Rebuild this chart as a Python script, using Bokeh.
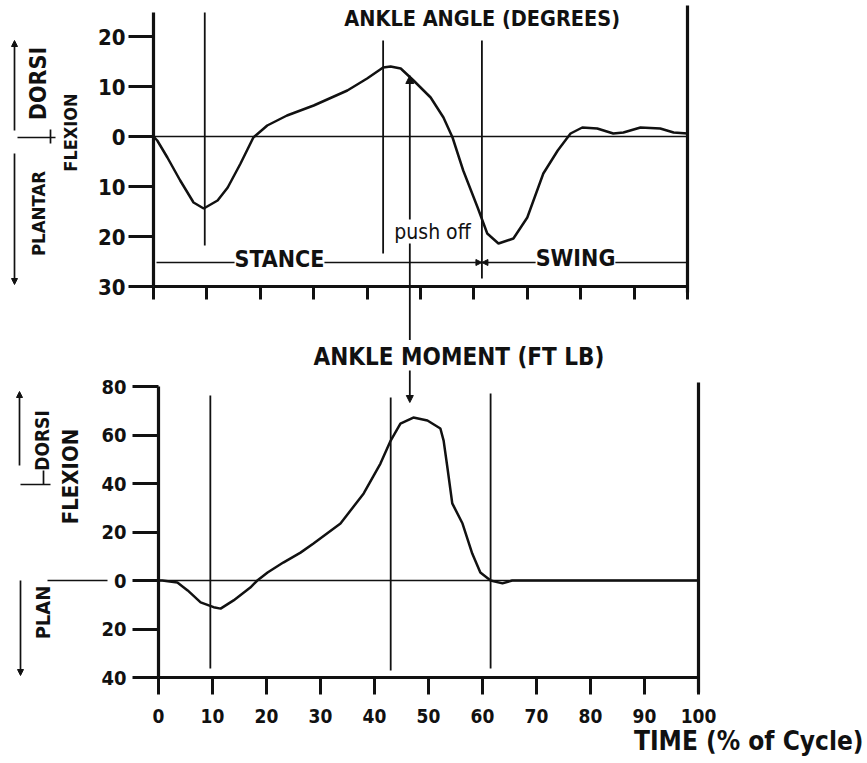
import math
from bokeh.plotting import figure
from bokeh.models import Range1d, FixedTicker, Label, Arrow, NormalHead
from bokeh.layouts import column
from bokeh.embed import file_html
from bokeh.resources import INLINE

# ---------------- data ----------------
# Ankle angle, degrees (dorsiflexion +, plantarflexion -) vs % of gait cycle
angle_x = [0, 0.7, 2.6, 5.0, 7.5, 9.4, 12.0, 13.9, 16.3, 18.7, 21.3, 25.0, 30.0,
           36.3, 40.0, 43.0, 44.4, 46.3, 48.7, 51.9, 54.3, 56.0, 58.0, 60.7,
           62.5, 64.6, 67.4, 70.0, 73.0, 75.7, 78.1, 80.3, 83.1, 86.1, 88.0,
           91.2, 94.9, 97.4, 100]
angle_y = [0, -0.8, -4.2, -8.8, -13.2, -14.4, -12.8, -10.2, -5.4, -0.2, 2.2, 4.2, 6.2,
           9.2, 11.6, 13.8, 14.0, 13.6, 11.2, 7.8, 3.8, -0.2, -6.8, -14.2,
           -19.4, -21.4, -20.4, -16.2, -7.4, -2.8, 0.6, 1.8, 1.6, 0.6, 0.8,
           1.8, 1.6, 0.8, 0.6]

# Ankle moment, ft lb (dorsiflexion +, plantarflexion -)
moment_x = [0, 0.7, 3.5, 5.4, 7.8, 10.2, 11.5, 13.9, 17.0, 18.3, 20.2, 23.1, 26.3,
            28.7, 33.7, 38.0, 41.1, 43.0, 44.8, 47.2, 49.8, 52.2, 52.8, 53.5,
            54.4, 56.3, 58.1, 59.6, 61.5, 63.7, 65.5, 100]
moment_y = [0, 0, -0.8, -4.1, -9.0, -11.0, -11.6, -8.2, -2.9, 0, 3.3, 7.4, 11.5,
            15.3, 23.5, 35.9, 48.2, 57.7, 64.7, 67.2, 66.0, 62.7, 57.7, 46.6,
            31.8, 23.5, 11.1, 3.3, 0, -1.2, 0, 0]

# gait events (% cycle): heel strike, heel off, toe off ; push off arrow
event_x = [9.6, 43.0, 61.5]
toe_off_x = 61.5
push_off_x = 48.0

# tick values and labels
x_ticks = [0, 10, 20, 30, 40, 50, 60, 70, 80, 90, 100]
angle_ticks = [-30, -20, -10, 0, 10, 20]
angle_tick_labels = ["30", "20", "10", "0", "10", "20"]
moment_ticks = [-40, -20, 0, 20, 40, 60, 80]
moment_tick_labels = ["40", "20", "0", "20", "40", "60", "80"]

# ---------------- layout helpers ----------------
FONT = "DejaVu Sans Condensed, DejaVu Sans"
INK = "#111111"
W = 866
H1 = 340            # top panel canvas height (page y 0..340)
H2 = 422            # bottom panel canvas height (page y 340..762)

# page-pixel anchors of the two hand-drawn panels
X01, XS1, Y01, YS1 = 153.0, 5.34, 136.0, 5.0      # top: x=0 at px153, 5.34 px/%; y=0 at py136, 5 px/deg
X02, XS2, Y02, YS2 = 158.0, 5.40, 580.0, 2.425    # bottom


def tx1(px): return (px - X01) / XS1
def ty1(py): return (Y01 - py) / YS1
def tx2(px): return (px - X02) / XS2
def ty2(py): return (Y02 - py) / YS2


def make_fig(xr, yr, h):
    p = figure(width=W, height=h, output_backend="svg", toolbar_location=None,
               x_range=Range1d(*xr), y_range=Range1d(*yr),
               min_border=0, min_border_left=0, min_border_right=0,
               min_border_top=0, min_border_bottom=0)
    p.xgrid.visible = False
    p.ygrid.visible = False
    p.outline_line_color = None
    p.background_fill_color = "white"
    p.border_fill_color = "white"
    for ax in (p.xaxis[0], p.yaxis[0]):
        ax.axis_line_width = 3.2
        ax.axis_line_color = INK
        ax.major_tick_in = 0
        ax.major_tick_line_width = 3
        ax.major_tick_line_color = INK
        ax.minor_tick_out = 0
        ax.minor_tick_in = 0
        ax.major_label_text_font = FONT
        ax.major_label_text_font_style = "bold"
        ax.major_label_text_color = INK
    return p


def seg(p, x0, y0, x1, y1, w=1.7, head=False, hs=8):
    p.add_layout(Arrow(x_start=x0, y_start=y0, x_end=x1, y_end=y1, start=None,
                       end=NormalHead(size=hs, fill_color=INK, line_color=INK, line_width=1) if head else None,
                       line_width=w, line_color=INK))


def lab(p, x, y, text, size, angle=0.0, bold=True, align="center", bg=None):
    kw = {}
    if bg:
        kw = dict(background_fill_color=bg, background_fill_alpha=1.0)
    p.add_layout(Label(x=x, y=y, text=text, angle=angle, text_align=align,
                       text_baseline="middle", text_font=FONT,
                       text_font_size=f"{size}px",
                       text_font_style="bold" if bold else "normal",
                       text_color=INK, **kw))


# ---------------- top panel: ankle angle ----------------
p1 = make_fig((tx1(0), tx1(W)), (ty1(H1), ty1(0)), H1)
p1.yaxis.fixed_location = 0
p1.yaxis.bounds = (-30, ty1(12))
p1.yaxis.ticker = FixedTicker(ticks=angle_ticks)
p1.yaxis.major_label_overrides = {t: s for t, s in zip(angle_ticks, angle_tick_labels)}
p1.yaxis.major_tick_out = 25
p1.yaxis.major_label_standoff = 3
p1.yaxis.major_label_text_font_size = "22px"
p1.xaxis.fixed_location = -30
p1.xaxis.bounds = (0, 100)
p1.xaxis.ticker = FixedTicker(ticks=x_ticks)
p1.xaxis.major_label_overrides = {t: "" for t in x_ticks}
p1.xaxis.major_tick_out = 13

p1.line([0, 100], [0, 0], line_color=INK, line_width=1.6)
p1.segment(x0=event_x, y0=[ty1(245), ty1(253), ty1(278)],
           x1=event_x, y1=[ty1(12), ty1(40), ty1(40)],
           line_color=INK, line_width=1.8)
p1.segment(x0=[100], y0=[ty1(292)], x1=[100], y1=[ty1(5)], line_color=INK, line_width=3.2)
p1.line(angle_x, angle_y, line_color=INK, line_width=2.5)

# stance / swing
y_st = ty1(262)
seg(p1, tx1(156), y_st, toe_off_x, y_st, head=True, hs=6)
seg(p1, 100, y_st, toe_off_x, y_st, head=True, hs=6)
lab(p1, tx1(279), ty1(258), "STANCE", 23, bg="white")
lab(p1, tx1(575), ty1(257), "SWING", 23, bg="white")

# push off arrow, continuing down toward the moment panel
seg(p1, push_off_x, ty1(H1), push_off_x, ty1(75), w=1.8, head=True, hs=8)
lab(p1, tx1(432), ty1(231), "push off", 21, bold=False, bg="white")

lab(p1, tx1(485), ty1(18), "ANKLE  ANGLE (DEGREES)", 21.5)

lab(p1, tx1(37.5), ty1(83), "DORSI", 23, angle=math.pi / 2)
lab(p1, tx1(70), ty1(132), "FLEXION", 18, angle=math.pi / 2)
lab(p1, tx1(37.5), ty1(213), "PLANTAR", 18.5, angle=math.pi / 2)
seg(p1, tx1(14), ty1(130), tx1(14), ty1(40), head=True, hs=6)
seg(p1, tx1(17), ty1(137), tx1(55), ty1(137))
seg(p1, tx1(50), ty1(129), tx1(50), ty1(143))
seg(p1, tx1(14), ty1(153), tx1(14), ty1(284), head=True, hs=6)

# ---------------- bottom panel: ankle moment ----------------
OFF = 340.0   # page y of the bottom canvas top
p2 = make_fig((tx2(0), tx2(W)), (ty2(OFF + H2), ty2(OFF)), H2)
p2.yaxis.fixed_location = 0
p2.yaxis.bounds = (-40, 80)
p2.yaxis.ticker = FixedTicker(ticks=moment_ticks)
p2.yaxis.major_label_overrides = {t: s for t, s in zip(moment_ticks, moment_tick_labels)}
p2.yaxis.major_tick_out = 26
p2.yaxis.major_label_standoff = 6
p2.yaxis.major_label_text_font_size = "20px"
p2.xaxis.fixed_location = -40
p2.xaxis.bounds = (0, 100)
p2.xaxis.ticker = FixedTicker(ticks=x_ticks)
p2.xaxis.major_tick_out = 17
p2.xaxis.major_label_standoff = 14
p2.xaxis.major_label_text_font_size = "19px"

p2.line([0, 100], [0, 0], line_color=INK, line_width=1.6)
p2.segment(x0=event_x, y0=[ty2(668), ty2(670), ty2(668)],
           x1=event_x, y1=[ty2(395), ty2(397), ty2(393)],
           line_color=INK, line_width=1.8)
p2.segment(x0=[100], y0=[ty2(692)], x1=[100], y1=[ty2(382)], line_color=INK, line_width=3.2)
p2.line(moment_x, moment_y, line_color=INK, line_width=2.5)

# push off arrow end, same page x as in the top panel
px_push = X01 + XS1 * push_off_x
seg(p2, tx2(px_push), ty2(370), tx2(px_push), ty2(402), w=1.8, head=True, hs=7)

lab(p2, tx2(458.5), ty2(356), "ANKLE MOMENT (FT LB)", 24)
lab(p2, tx2(863), ty2(740), "TIME (% of Cycle)", 26, align="right")

lab(p2, tx2(41), ty2(440), "DORSI", 19, angle=math.pi / 2)
lab(p2, tx2(70), ty2(476), "FLEXION", 22, angle=math.pi / 2)
lab(p2, tx2(42), ty2(612), "PLAN", 20, angle=math.pi / 2)
seg(p2, tx2(19), ty2(465), tx2(19), ty2(391), head=True, hs=6)
seg(p2, tx2(20), ty2(484), tx2(50), ty2(484))
seg(p2, tx2(43), ty2(470), tx2(43), ty2(484))
seg(p2, tx2(47), 0, tx2(107), 0)
seg(p2, tx2(20), 0, tx2(20), ty2(675), head=True, hs=6)

layout = column(p1, p2, spacing=0)
open("out.html", "w").write(file_html(layout, INLINE))
